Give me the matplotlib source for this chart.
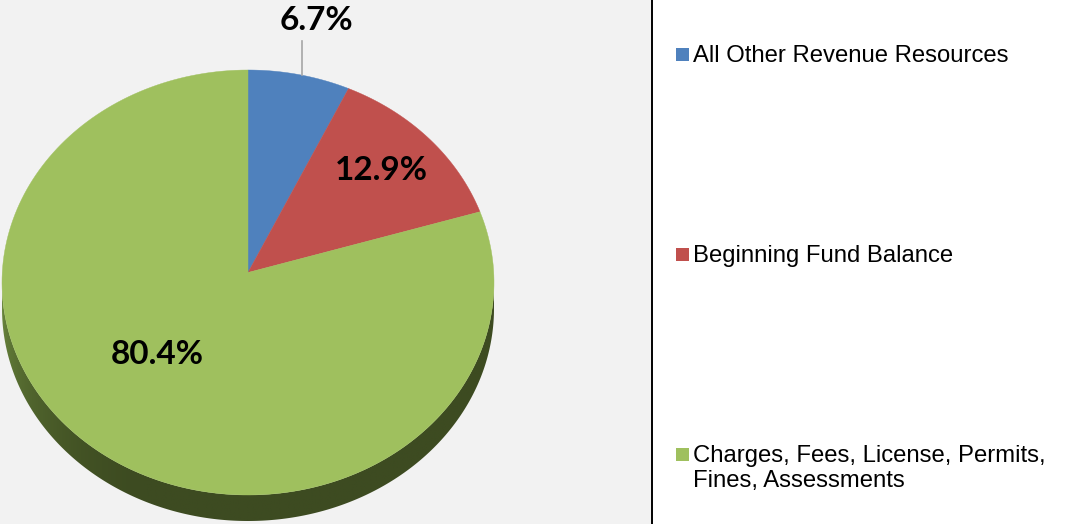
"""Revenue resources pie (tilted 3D style), drawn in pixel coordinates."""

import numpy as np
import matplotlib.pyplot as plt
from matplotlib.colors import to_rgb
from matplotlib.patches import Polygon, Rectangle

categories = [
    "All Other Revenue Resources",
    "Beginning Fund Balance",
    "Charges, Fees, License, Permits,\nFines, Assessments",
]
shares = [6.7, 12.9, 80.4]
pct_labels = ["6.7%", "12.9%", "80.4%"]

top_colors = ["#4f81bd", "#c0504d", "#9fc05e"]
side_light = ["#3a5a85", "#86362f", "#6d8a3f"]
side_dark = ["#2c4466", "#5e2623", "#3d4b21"]

W, H = 1068, 524
CX, CY = 248, 282.5      # ellipse centre
A, B = 246, 212.5        # semi axes
APEX_DY = -10            # slice tip sits a little above the ellipse centre
DEPTH = 26
PANEL_X = 652

LABEL_POS = [(316, 20), (381, 170), (157, 354)]
LEGEND_X = 676
LEGEND_Y = [54, 254, 454]


def rim(theta_deg, dy=0.0):
    t = np.radians(theta_deg)
    return CX + A * np.sin(t), CY - B * np.cos(t) + dy


fig = plt.figure(figsize=(W / 100, H / 100), dpi=100)
fig.patch.set_facecolor("white")
ax = fig.add_axes([0, 0, 1, 1])
ax.set_xlim(0, W)
ax.set_ylim(H, 0)
ax.axis("off")

ax.add_patch(Rectangle((0, 0), PANEL_X, H, facecolor="#f2f2f2", edgecolor="none", zorder=0))
ax.plot([PANEL_X, PANEL_X], [0, H], color="black", lw=1.4, zorder=1)

bounds = np.concatenate([[0], np.cumsum(shares) / np.sum(shares) * 360])

# side walls: only the front half (90..270 deg) shows, shaded lighter to the left
xs = np.linspace(CX - A, CX + A, 600)
s = np.clip((CX - xs) / A, -1, 1)
ang = 180 + np.degrees(np.arcsin(s))
shade = np.clip((ang - 205) / 65, 0, 1) ** 1.6
for i in range(len(shares)):
    lo, hi = max(bounds[i], 90), min(bounds[i + 1], 270)
    if hi <= lo:
        continue
    ts = np.linspace(lo, hi, 300)
    pts = [rim(t) for t in ts] + [rim(t, DEPTH) for t in ts[::-1]]
    poly = Polygon(pts, closed=True, facecolor="none", edgecolor="none")
    ax.add_patch(poly)
    c0, c1 = np.array(to_rgb(side_dark[i])), np.array(to_rgb(side_light[i]))
    img = (c0 + (c1 - c0) * shade[:, None])[None, :, :]
    im = ax.imshow(img, extent=(CX - A, CX + A, CY + B + DEPTH + 2, CY - 2),
                   aspect="auto", interpolation="bilinear", zorder=2)
    im.set_clip_path(poly)
ax.set_xlim(0, W)
ax.set_ylim(H, 0)

# top faces
apex = (CX, CY + APEX_DY)
for i in range(len(shares)):
    ts = np.linspace(bounds[i], bounds[i + 1], 200)
    pts = [apex] + [rim(t) for t in ts]
    ax.add_patch(Polygon(pts, closed=True, facecolor=top_colors[i],
                         edgecolor=top_colors[i], lw=0.3, zorder=3))

# percentage labels
for lab, (lx, ly) in zip(pct_labels, LABEL_POS):
    ax.text(lx, ly, lab, fontsize=24, fontweight="bold", family="Lato",
            ha="center", va="center", color="black", zorder=5)

# leader line for the small slice
mid0 = 0.5 * (bounds[0] + bounds[1])
lx0, ly0 = rim(mid0 * 1.05)
ax.plot([lx0, lx0], [ly0, 41], color="#a6a6a6", lw=1.2, zorder=4)

# legend
for i, cat in enumerate(categories):
    y = LEGEND_Y[i]
    ax.add_patch(Rectangle((LEGEND_X, y - 6.5), 13, 13, facecolor=top_colors[i],
                           edgecolor="none", zorder=5))
    ax.text(LEGEND_X + 17, y - 9, cat, fontsize=17.2, family="Liberation Sans",
            ha="left", va="top", color="black", linespacing=1.2, zorder=5)

fig.savefig("out.png", dpi=100)
